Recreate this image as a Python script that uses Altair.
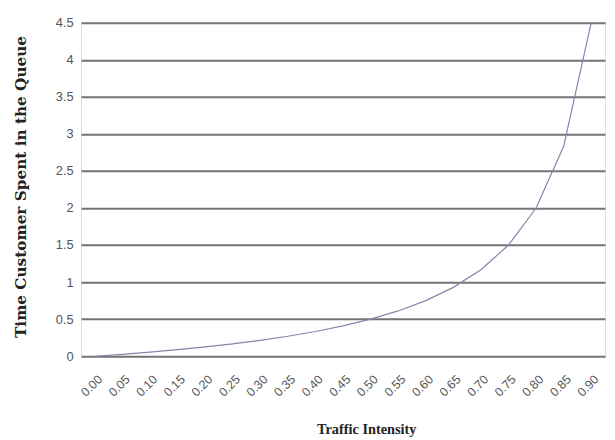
import altair as alt
import pandas as pd

intensity = ["0.00", "0.05", "0.10", "0.15", "0.20", "0.25", "0.30", "0.35", "0.40", "0.45",
             "0.50", "0.55", "0.60", "0.65", "0.70", "0.75", "0.80", "0.85", "0.90"]
queue_time = [0.0, 0.026, 0.056, 0.088, 0.125, 0.167, 0.214, 0.269, 0.333, 0.409,
              0.5, 0.611, 0.75, 0.929, 1.167, 1.5, 2.0, 2.833, 4.5]
y_ticks = [0, 0.5, 1, 1.5, 2, 2.5, 3, 3.5, 4, 4.5]

df = pd.DataFrame({"x": intensity, "y": queue_time})

chart = alt.Chart(df).mark_line(color="#8585ac", strokeWidth=1.2).encode(
    x=alt.X("x:O", sort=intensity, title="Traffic Intensity",
            scale=alt.Scale(paddingOuter=0.5, paddingInner=0),
            axis=alt.Axis(labelAngle=315, labelAlign="right", labelBaseline="middle",
                          labelFont="Liberation Sans", labelFontSize=12.5,
                          labelColor="#555555", ticks=False, domain=False, labelPadding=21,
                          labelOffset=5,
                          titleFont="Liberation Serif", titleFontSize=14.5, titleFontWeight="bold",
                          titleColor="#222222", titleX=289, titleY=78,
                          titleBaseline="alphabetic")),
    y=alt.Y("y:Q", title="Time Customer Spent in the Queue",
            scale=alt.Scale(domain=[0, 4.5], nice=False),
            axis=alt.Axis(values=y_ticks,
                          labelExpr="format(datum.value, '')",
                          labelFont="Liberation Sans", labelFontSize=13, labelColor="#555555",
                          ticks=False, domain=False, labelPadding=8,
                          grid=True, gridColor="#747474", gridWidth=2,
                          titleFont="DejaVu Serif", titleFontSize=15.5, titleFontWeight="bold",
                          titleColor="#222222", titleX=-61, titleY=166,
                          titleBaseline="middle")),
).properties(
    width=531, height=338,
    autosize=alt.AutoSizeParams(type="none"),
    padding={"left": 74, "top": 12, "right": 2, "bottom": 80},
).configure_view(stroke="#747474", strokeWidth=2).configure(background="white")

chart.save("out.html", embed_options={"renderer": "svg", "actions": False})
